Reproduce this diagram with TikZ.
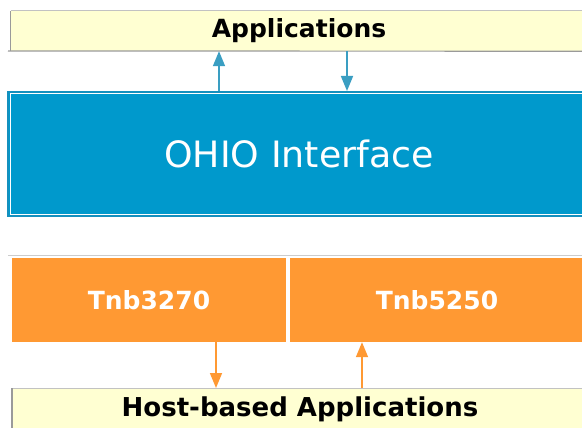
\documentclass[tikz,border=0pt]{standalone}
\usepackage{fontspec}
\setmainfont{DejaVu Sans}
\usetikzlibrary{arrows.meta}
\definecolor{ohioblue}{HTML}{0099CC}
\definecolor{ohioedge}{HTML}{1590BE}
\definecolor{appyellow}{HTML}{FFFFD2}
\definecolor{tnborange}{HTML}{FF9933}
\definecolor{arrowblue}{HTML}{3A9EC2}
\definecolor{frame}{HTML}{9A9A9A}
\tikzset{
  appbox/.style={fill=appyellow, draw=none, inner sep=0pt},
  ohiobox/.style={fill=ohioblue, draw=ohioedge, line width=2pt, inner sep=0pt,
    text=white, font=\fontsize{36.3}{40}\selectfont},
  tnbbox/.style={fill=tnborange, draw=none, inner sep=0pt, text=white,
    font=\bfseries\fontsize{25}{28}\selectfont},
  applabel/.style={font=\bfseries\fontsize{25}{28}\selectfont, text=black},
  bluelink/.style={draw=arrowblue, line width=1.6pt, -{Triangle[width=12pt,length=15pt]}},
  orangelink/.style={draw=tnborange, line width=1.6pt, -{Triangle[width=12pt,length=15pt]}},
  rule/.style={draw=frame, line width=1.2pt}
}
\begin{document}
\begin{tikzpicture}[x=1pt, y=-1pt]
\useasboundingbox[fill=white] (0,0) rectangle (582,428);

% top application layer
\node[appbox, minimum width=576pt, minimum height=40pt] (apps) at (299,31) {};
\node[applabel] (appstext) at (299,31) {Applications};
\draw[draw=frame!60, line width=1pt] (apps.north west) -- (apps.north east);
\draw[rule] (apps.north west) -- (apps.south west);
\coordinate (appsrule) at (8,51);
\draw[rule] (appsrule) -- (apps.south east);

% OHIO interface layer
\node[ohiobox, minimum width=582pt, minimum height=124pt] (ohio) at (299,154) {OHIO Interface};
\draw[white, line width=1pt] ([xshift=3pt,yshift=-3pt]ohio.north west) rectangle ([xshift=-3pt,yshift=3pt]ohio.south east);

% links between applications and OHIO
\coordinate (uplink) at (219,0);
\coordinate (downlink) at (347,0);
\draw[bluelink] (ohio.north -| uplink) -- (apps.south -| uplink);
\draw[bluelink] (apps.south -| downlink) -- (ohio.north -| downlink);

% emulator layer
\coordinate (tnbrule) at (8,255);
\node[tnbbox, minimum width=274pt, minimum height=84pt] (tnb3270) at (149,300) {Tnb3270};
\node[tnbbox, minimum width=294pt, minimum height=84pt] (tnb5250) at (437,300) {Tnb5250};
\draw[draw=frame!50, line width=1pt] (tnbrule) -- (tnbrule -| tnb5250.east);

% host-based application layer
\node[appbox, minimum width=576pt, minimum height=44pt, anchor=north west] (host) at (12,388) {};
\node[applabel, font=\bfseries\fontsize{26}{28}\selectfont] (hosttext) at (300,409) {Host-based Applications};
\draw[draw=frame!60, line width=1pt] (host.north west) -- (host.north east);
\draw[rule] (host.north west) -- (host.south west);

% links between emulators and host applications
\coordinate (downhost) at (216,0);
\coordinate (uphost) at (362,0);
\draw[orangelink] (tnb3270.south -| downhost) -- (host.north -| downhost);
\draw[orangelink] (host.north -| uphost) -- (tnb5250.south -| uphost);
\end{tikzpicture}
\end{document}
